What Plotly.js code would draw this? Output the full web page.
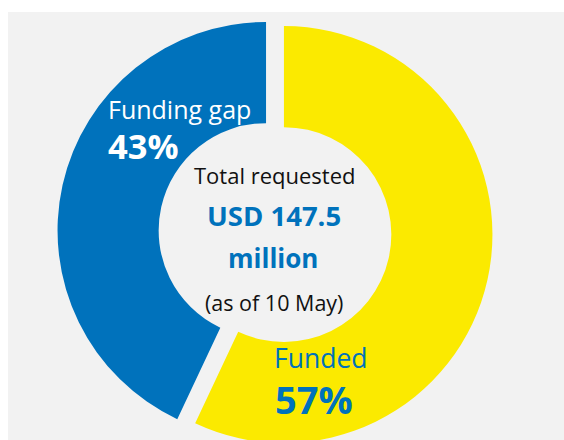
<!DOCTYPE html>
<html>
<head>
<meta charset="utf-8">
<script src="https://cdn.plot.ly/plotly-3.0.1.min.js"></script>
<style>
  html, body { margin: 0; padding: 0; background: #ffffff; overflow: hidden; width: 564px; height: 440px; }
  #chart { position: absolute; left: 8px; top: 12px; width: 556px; height: 440px; }
</style>
</head>
<body>
<div id="chart"></div>
<script>
// Data
const labels = ['Funded', 'Funding gap'];
const values = [57, 43];
const sliceColors = ['#fbea00', '#0072bc'];
const totalLines = ['Total requested', 'USD 147.5', 'million', '(as of 10 May)'];

const FONT = '"Open Sans", Lato, sans-serif';

const trace = {
  type: 'pie',
  labels: labels,
  values: values,
  sort: false,
  direction: 'clockwise',
  rotation: 0,
  hole: 0.515,
  pull: [0.044, 0.044],
  marker: { colors: sliceColors, line: { width: 0 } },
  textinfo: 'none',
  hoverinfo: 'skip',
  showlegend: false,
  domain: { x: [0.0887, 0.8717], y: [0.0041, 0.9936] }
};

const blue = '#0072bc';
const annotations = [
  { text: labels[1], x: 0.1763, y: 0.7795, xanchor: 'left', font: { size: 25, color: '#ffffff' } },
  { text: '<b>' + values[1] + '%</b>', x: 0.1763, y: 0.6977, xanchor: 'left', font: { size: 34.5, color: '#ffffff' } },
  { text: totalLines[0], x: 0.4793, y: 0.6295, xanchor: 'center', font: { size: 22, color: '#111111' } },
  { text: '<b>' + totalLines[1] + '</b>', x: 0.4784, y: 0.5375, xanchor: 'center', font: { size: 27.5, color: blue } },
  { text: '<b>' + totalLines[2] + '</b>', x: 0.4775, y: 0.4409, xanchor: 'center', font: { size: 26, color: blue } },
  { text: totalLines[3], x: 0.4784, y: 0.3409, xanchor: 'center', font: { size: 21.5, color: '#111111' } },
  { text: labels[0], x: 0.4748, y: 0.2136, xanchor: 'left', font: { size: 26.5, color: blue } },
  { text: '<b>' + values[0] + '%</b>', x: 0.4766, y: 0.1205, xanchor: 'left', font: { size: 38, color: blue } }
].map(a => Object.assign({ xref: 'paper', yref: 'paper', yanchor: 'middle', showarrow: false }, a, { font: Object.assign({ family: FONT }, a.font) }));

const layout = {
  width: 556,
  height: 440,
  margin: { l: 0, r: 0, t: 0, b: 0, pad: 0 },
  paper_bgcolor: '#f2f2f2',
  plot_bgcolor: '#f2f2f2',
  showlegend: false,
  annotations: annotations
};

Plotly.newPlot('chart', [trace], layout, { displayModeBar: false, staticPlot: true });
</script>
</body>
</html>
